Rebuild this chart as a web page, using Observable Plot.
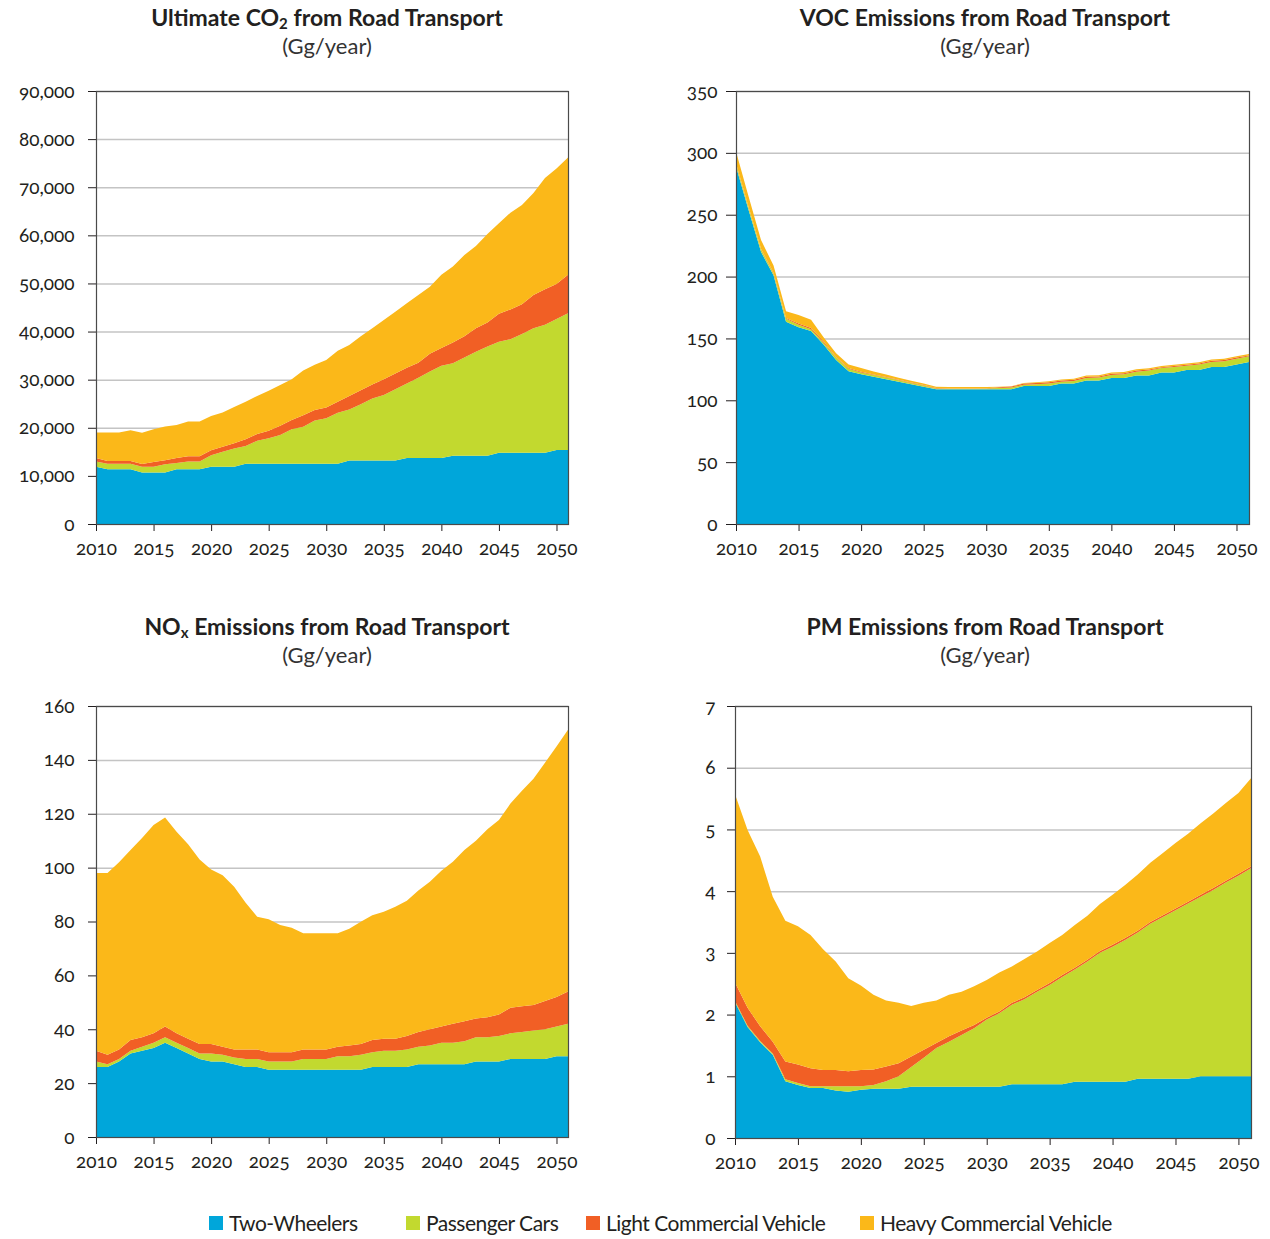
<!DOCTYPE html>
<html>
<head>
<meta charset="utf-8">
<script src="https://cdn.jsdelivr.net/npm/d3@7"></script>
<script src="https://cdn.jsdelivr.net/npm/@observablehq/plot@0.6"></script>
<style>
  html, body { margin: 0; padding: 0; background: #fff; }
  #page { position: relative; width: 1270px; height: 1239px; font-family: Lato, "Open Sans", sans-serif; color: #231f20; }
  .title { position: absolute; transform: translateX(-50%); white-space: nowrap; text-align: center; }
  .title .t { font-size: 23px; font-weight: 700; line-height: 28px; }
  .title .s { font-size: 22px; font-weight: 400; line-height: 30px; color: #333; }
  .title sub { font-size: 15px; vertical-align: -3px; line-height: 0; }
  .panel { position: absolute; }
  .panel svg text { font-variant-numeric: oldstyle-nums; font-feature-settings: "onum"; }
  .leg { position: absolute; top: 1210px; display: flex; align-items: center; font-size: 21px; letter-spacing: -0.5px; color: #231f20; white-space: nowrap; }
  .leg i { display: inline-block; width: 14px; height: 14px; margin-right: 6px; }
</style>
</head>
<body>
<div id="page"></div>
<script>
const categories = ["Two-Wheelers", "Passenger Cars", "Light Commercial Vehicle", "Heavy Commercial Vehicle"];
const colors = ["#00a6da", "#c2d92f", "#f15f25", "#fbb819"];
const years = [2010,2011,2012,2013,2014,2015,2016,2017,2018,2019,2020,2021,2022,2023,2024,2025,2026,2027,2028,2029,2030,2031,2032,2033,2034,2035,2036,2037,2038,2039,2040,2041,2042,2043,2044,2045,2046,2047,2048,2049,2050,2051];
const xTicks = [2010,2015,2020,2025,2030,2035,2040,2045,2050];

// Ultimate CO2 (Gg/year)
const co2TW = [11900,11400,11400,11400,10700,10700,10700,11400,11400,11400, 11900,11900,11900,12500,12500,12500,12500,12500,12500,12500, 12500,12500,13200,13200,13200,13200,13200,13700,13700,13700, 13700,14200,14200,14200,14200,14800,14800,14800,14800,14800, 15400,15400];
const co2PC = [1100,1100,1100,1100,1200,1200,1700,1300,1600,1600, 2400,3100,3800,3700,4800,5300,6000,7200,7700,9000, 9500,10600,10600,11700,12900,13600,14800,15500,16700,18000, 19200,19200,20400,21600,22700,23100,23600,24700,25900,26600, 27200,28400];
const co2LCV = [700,600,600,600,550,1000,850,1000,1100,1100, 1050,1050,1100,1400,1400,1600,1900,1900,2400,2200, 2200,2300,2800,2900,2900,3300,3300,3300,3100,3700, 3700,4300,4400,4900,5000,5800,6200,6200,6900,7400, 7300,8000];
const co2HCV = [5300,5900,5900,6400,6500,6800,7000,6900,7200,7200, 7100,7100,7500,7800,7900,8300,8500,8500,9300,9400, 9900,10600,10600,11200,11700,12300,12800,13400,14100,13900, 15200,15800,16900,17100,18400,18800,20100,20600,21200,23100, 24000,24400];
const co2Ticks = [0,10000,20000,30000,40000,50000,60000,70000,80000,90000];

// VOC (Gg/year)
const vocTW = [289,254,220,201,163.5,159,156,145,132.5,123.5, 121,119,117,115,113,111,109,109,109,109, 109,109,109,111.5,111.5,111.5,113.5,113.5,116,116, 118,118,120,120,122.5,122.5,124.5,124.5,127,127, 129,131];
const vocPC = [2,2,2,1.5,2.5,2,1.5,1.5,2,2, 1.5,1.5,1.5,1.2,1,1,0.5,0.3,0.3,0.3, 0.5,1,1.3,1,1.5,2,1.5,2,2,2.5, 2.5,3,3,4,3.5,4.5,3.5,4.5,4,4.5, 4.5,4.5];
const vocLCV = [0.5,0.5,0.5,0.5,0.5,1,1,1,0.5,0.5, 0.5,0.3,0.3,0.3,0.3,0.3,0.5,0.2,0.2,0.2, 0.3,0.5,0.8,1,1,1,1,1,1,0.8, 1,0.8,1,0.8,0.8,0.8,0.8,0.8,1,1, 1,0.8];
const vocHCV = [9.5,8.5,7,6,5.5,7,6.5,3.5,3,3, 3,2.5,2,1.8,1.5,1.2,1,1.2,1.2,1.2, 1,0.5,0.3,0.5,0.5,0.8,0.8,1,1,1, 1,1,1,1,1,1,1,1,1,1, 1,1.2];
const vocTicks = [0,50,100,150,200,250,300,350];

// NOx (Gg/year)
const noxTW = [26,26,28,31,32,33,35,33,31,29, 28,28,27,26,26,25,25,25,25,25, 25,25,25,25,26,26,26,26,27,27, 27,27,27,28,28,28,29,29,29,29, 30,30];
const noxPC = [2,1,1,1,1.5,2,2,2,2,2, 3,2.5,2.5,3,3,3,3,3,4,4, 4,5,5,5.5,5.5,6,6,6.5,6.5,7, 8,8,8.5,9,9,9.5,9.5,10,10.5,11, 11,12];
const noxLCV = [4,3.5,3.5,4,3.5,3.5,4,3.5,3.5,3.5, 3.5,3,3,3.5,3.5,3.5,3.5,3.5,3.5,3.5, 3.5,3.5,4,4,4.5,4.5,4.5,5,5.5,6, 6,7,7.5,7,7.5,8,9.5,9.5,9.5,10.5, 11,12];
const noxHCV = [66,67.5,69.5,70.5,74,77.3,77.6,74.8,72.2,68.5, 64.8,63.7,60.4,54.5,49.3,49.3,47.2,46.2,43.1,43.1, 43.1,42.1,43.3,45.4,46.3,47.1,49,50.2,52.5,54.8, 57.8,60.2,63.5,66,69.7,72.2,75.8,80,84,88.4, 93,97.2];
const noxTicks = [0,20,40,60,80,100,120,140,160];

// PM (Gg/year)
const pmTW = [2.2,1.8,1.55,1.35,0.92,0.86,0.81,0.81,0.77,0.75, 0.78,0.8,0.8,0.8,0.83,0.83,0.83,0.83,0.83,0.83, 0.83,0.83,0.87,0.87,0.87,0.87,0.87,0.91,0.91,0.91, 0.91,0.91,0.96,0.96,0.96,0.96,0.96,1.0,1.0,1.0, 1.0,1.0];
const pmPC = [0.02,0.02,0.02,0.02,0.03,0.03,0.03,0.03,0.07,0.09, 0.06,0.06,0.12,0.2,0.32,0.47,0.63,0.73,0.84,0.95, 1.09,1.19,1.29,1.38,1.5,1.61,1.74,1.82,1.95,2.09, 2.19,2.3,2.37,2.51,2.62,2.73,2.84,2.91,3.02,3.14, 3.25,3.37];
const pmLCV = [0.3,0.29,0.24,0.19,0.29,0.3,0.29,0.26,0.26,0.24, 0.26,0.25,0.24,0.21,0.17,0.13,0.08,0.09,0.07,0.05, 0.03,0.03,0.03,0.03,0.03,0.03,0.03,0.03,0.03,0.03, 0.03,0.03,0.03,0.03,0.03,0.03,0.03,0.03,0.03,0.03, 0.03,0.03];
const pmHCV = [3.05,2.88,2.75,2.35,2.28,2.24,2.16,1.96,1.76,1.51, 1.37,1.21,1.07,0.98,0.82,0.76,0.69,0.67,0.63,0.63, 0.61,0.63,0.59,0.62,0.62,0.65,0.65,0.69,0.71,0.76, 0.81,0.86,0.91,0.96,1.01,1.06,1.1,1.16,1.21,1.26, 1.31,1.43];
const pmTicks = [0,1,2,3,4,5,6,7];

const page = document.getElementById("page");

function addTitle(html, cx, top) {
  const d = document.createElement("div");
  d.className = "title";
  d.style.left = cx + "px";
  d.style.top = top + "px";
  d.innerHTML = `<div class="t">${html}</div><div class="s">(Gg/year)</div>`;
  page.appendChild(d);
}

function addChart(o) {
  const rows = [];
  o.series.forEach((s, k) => s.forEach((v, i) => rows.push({year: years[i], cat: categories[k], value: v})));
  const mL = 90, mT = 15, mB = 40, mR = 12;
  const W = mL + (o.x1 - o.x0) + mR;
  const H = mT + (o.y1 - o.y0) + mB;
  const chart = Plot.plot({
    width: W, height: H,
    marginLeft: mL, marginTop: mT, marginBottom: mB, marginRight: mR,
    style: {fontFamily: "Lato, sans-serif", fontSize: "19px", color: "#231f20", background: "transparent", overflow: "visible"},
    x: {type: "linear", domain: [2010, 2051], ticks: xTicks, tickFormat: d => String(d), tickSize: 7, tickPadding: 10, label: null},
    y: {domain: [0, o.ticks[o.ticks.length - 1]], ticks: o.ticks, tickFormat: o.fmt, tickSize: o.tickSize, tickPadding: o.tickPad, label: null},
    color: {domain: categories, range: colors},
    marks: [
      Plot.ruleY(o.ticks.slice(1), {stroke: "#c4c4c4", strokeWidth: 1.5}),
      Plot.areaY(rows, {x: "year", y: "value", fill: "cat", order: categories}),
      Plot.frame({stroke: "#4a4a4a", strokeWidth: 1.2})
    ]
  });
  const d = document.createElement("div");
  d.className = "panel";
  d.style.left = (o.x0 - mL) + "px";
  d.style.top = (o.y0 - mT) + "px";
  d.appendChild(chart);
  page.appendChild(d);
}

addTitle("Ultimate CO<sub>2</sub> from Road Transport", 327, 3);
addTitle("VOC Emissions from Road Transport", 985, 3);
addTitle("NO<sub>x</sub> Emissions from Road Transport", 327, 612);
addTitle("PM Emissions from Road Transport", 985, 612);

addChart({series: [co2TW, co2PC, co2LCV, co2HCV], ticks: co2Ticks, fmt: d3.format(","), x0: 96, x1: 568, y0: 91, y1: 524, tickSize: 8, tickPad: 14});
addChart({series: [vocTW, vocPC, vocLCV, vocHCV], ticks: vocTicks, fmt: d3.format("d"), x0: 736, x1: 1249, y0: 91, y1: 524, tickSize: 10, tickPad: 9});
addChart({series: [noxTW, noxPC, noxLCV, noxHCV], ticks: noxTicks, fmt: d3.format("d"), x0: 96, x1: 568, y0: 706, y1: 1137, tickSize: 8, tickPad: 14});
addChart({series: [pmTW, pmPC, pmLCV, pmHCV], ticks: pmTicks, fmt: d3.format("d"), x0: 735, x1: 1251, y0: 706, y1: 1138, tickSize: 8, tickPad: 12});

const legX = [209, 406, 586, 860];
categories.forEach((c, k) => {
  const d = document.createElement("div");
  d.className = "leg";
  d.style.left = legX[k] + "px";
  d.innerHTML = `<i style="background:${colors[k]}"></i><span>${c}</span>`;
  page.appendChild(d);
});
</script>
</body>
</html>
